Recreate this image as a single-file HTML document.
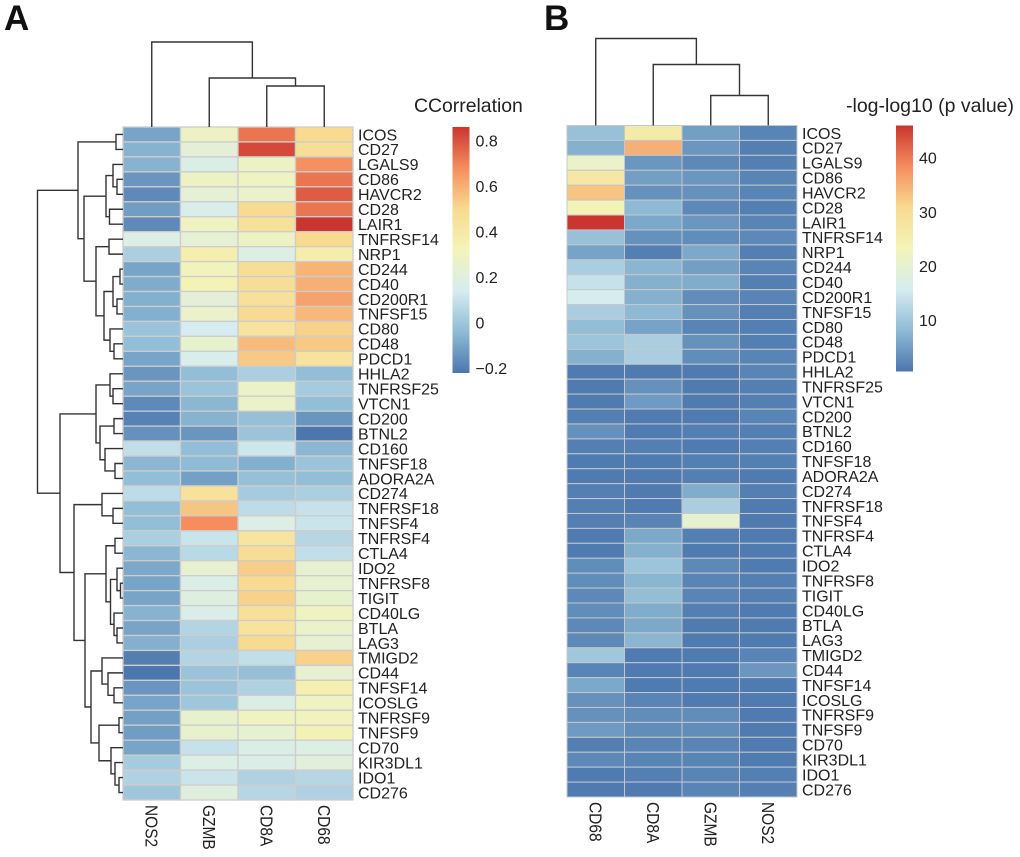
<!DOCTYPE html>
<html lang="en">
<head>
<meta charset="utf-8">
<title>Heatmaps of immune checkpoint gene correlation</title>
<style>
html,body{margin:0;padding:0;background:#fff;width:1020px;height:857px;overflow:hidden}
svg{display:block}
text{font-family:"Liberation Sans",Arial,sans-serif;fill:#222}
</style>
</head>
<body>
<svg id="figure" xmlns="http://www.w3.org/2000/svg" width="1020" height="857" viewBox="0 0 1020 857">
  <defs>
    <linearGradient id="rampGradient" x1="0" y1="1" x2="0" y2="0"></linearGradient>
  </defs>
  <rect x="0" y="0" width="1020" height="857" fill="#fff"/>
  <text x="4" y="30" font-size="35" font-weight="700" style="fill:#111">A</text>
  <text x="544" y="30" font-size="35" font-weight="700" style="fill:#111">B</text>
  <text x="414" y="112" font-size="19.4">CCorrelation</text>
  <text x="846" y="112" font-size="19.5">-log-log10 (p value)</text>
  <g id="panelA"></g>
  <g id="panelB"></g>
</svg>
<script>
var genes = ["ICOS","CD27","LGALS9","CD86","HAVCR2","CD28","LAIR1","TNFRSF14","NRP1","CD244","CD40","CD200R1","TNFSF15","CD80","CD48","PDCD1","HHLA2","TNFRSF25","VTCN1","CD200","BTNL2","CD160","TNFSF18","ADORA2A","CD274","TNFRSF18","TNFSF4","TNFRSF4","CTLA4","IDO2","TNFRSF8","TIGIT","CD40LG","BTLA","LAG3","TMIGD2","CD44","TNFSF14","ICOSLG","TNFRSF9","TNFSF9","CD70","KIR3DL1","IDO1","CD276"];

/* Panel A: correlation values per column */
var columnsA = ["NOS2","GZMB","CD8A","CD68"];
var corrNOS2 = [-0.10,-0.06,-0.06,-0.14,-0.17,-0.12,-0.17,0.18,0.03,-0.10,-0.08,-0.07,-0.07,-0.01,-0.03,-0.10,-0.14,-0.10,-0.17,-0.19,-0.15,0.09,-0.05,-0.03,0.08,-0.03,-0.03,0.03,-0.05,-0.09,-0.10,-0.10,-0.06,-0.10,-0.07,-0.20,-0.22,-0.14,-0.10,-0.11,-0.12,-0.10,0.02,0.04,0.00];
var corrGZMB = [0.28,0.22,0.17,0.28,0.23,0.16,0.29,0.23,0.36,0.30,0.33,0.22,0.26,0.14,0.25,0.16,-0.03,-0.01,-0.05,-0.06,-0.14,-0.03,-0.04,-0.11,0.45,0.55,0.68,0.11,0.07,0.24,0.17,0.19,0.17,0.05,0.03,0.05,-0.01,-0.01,0.00,0.25,0.25,0.10,0.18,0.11,0.20];
var corrCD8A = [0.73,0.82,0.28,0.29,0.26,0.50,0.46,0.28,0.18,0.47,0.47,0.46,0.50,0.44,0.57,0.54,0.03,0.27,0.27,-0.02,-0.01,0.12,-0.07,-0.02,0.02,0.08,0.18,0.43,0.47,0.53,0.50,0.52,0.46,0.44,0.50,0.09,-0.02,0.04,0.17,0.29,0.24,0.17,0.17,0.04,0.06];
var corrCD68 = [0.50,0.47,0.67,0.73,0.78,0.73,0.86,0.50,0.37,0.59,0.60,0.63,0.58,0.52,0.54,0.44,-0.03,0.02,-0.03,-0.14,-0.22,-0.05,-0.01,-0.03,0.03,0.10,0.11,0.06,0.09,0.24,0.24,0.25,0.29,0.26,0.24,0.52,0.24,0.35,0.29,0.30,0.34,0.18,0.21,0.06,0.04];
var legendTicksA = [0.8,0.6,0.4,0.2,0,-0.2];
var legendLabelsA = ["0.8","0.6","0.4","0.2","0","\u22120.2"];
var domainA = [-0.22,0.86];

/* Panel B: significance values per column */
var columnsB = ["CD68","CD8A","GZMB","NOS2"];
var sigCD68 = [9,7,21,27,33,23.5,46,9,5.5,11,14,16,11,8.5,9.5,7,1,1,1,1.5,3.5,1.5,1,1,1.5,1.5,1.5,1,1,3,3,2.5,3,2.5,2.5,10,2,6,3.5,3.5,4.5,1.5,2.5,1,1];
var sigCD8A = [26,35,4,5,3.5,8,6,3.5,1.5,7.5,7,7,8,5.5,11,11,1,3.5,4.5,1,1,1.5,1,1,1,1,2,6,7,9.5,7.5,8.5,6.5,6,7.5,1,1,1,2,3,3,2,2,1.5,1];
var sigGZMB = [5,4,2.5,4,3.5,2.5,4,3,6,5,6.5,3,3.5,2,3.5,3,1,1,1,1,1.5,1,1.5,1.5,6.5,11,20,1.5,1,2.5,2,2,1.5,1,1,1,1,1,1,3,3,2,2,2,2];
var sigNOS2 = [2,1.5,1.5,2,2,1.5,2,2.5,1.5,2,1.5,2,1.5,1.5,1.5,2,2,1.5,1.5,2,1.5,1.5,1.5,1,1.5,1,1,1,1,1,1.5,1.5,1,1,1,2,4,1,1,1,1,1,1,1.5,1.5];
var legendTicksB = [40,30,20,10];
var legendLabelsB = ["40","30","20","10"];
var domainB = [0.5,46];

/* Dendrograms: node = [merge height, left child, right child]; a number is a leaf index */
var rowTreeA = [8.55,
  [4.5,
    [0.7,0,1],
    [3.9,
      [1.7,[1.0,2,[0.6,3,4]],[1.35,5,6]],
      [2.7,
        [1.4,7,8],
        [1.9,
          [1.0,[0.3,9,10],[0.6,11,12]],
          [1.3,13,[0.9,14,15]]]]]],
  [6.3,
    [2.7,
      [1.3,16,[1.0,17,18]],
      [2.3,[0.9,19,20],[1.8,21,[0.8,22,23]]]],
    [4.9,
      [2.1,24,[1.0,25,26]],
      [3.8,
        [1.7,
          [0.8,27,28],
          [1.25,[0.6,29,[0.25,30,31]],[0.9,32,[0.6,33,34]]]],
        [3.2,
          [2.1,35,[1.5,36,[0.9,37,38]]],
          [2.4,[0.4,39,40],[1.2,41,[0.8,42,[0.4,43,44]]]]]]]]];
var colTreeA = [8.5,0,[4.9,1,[4.1,2,3]]];
var colTreeB = [8.7,0,[6.1,1,[3.0,2,3]]];

/* Shared colour ramp (low to high) */
var ramp = ["#4b76ae","#8fbbd5","#d6ecf0","#f4f4b8","#f8da90","#f58d5e","#cb352f"];

var NS = "http://www.w3.org/2000/svg";

function hexToRgb(h){
  return [parseInt(h.slice(1,3),16),parseInt(h.slice(3,5),16),parseInt(h.slice(5,7),16)];
}
function colorScale(domain){
  return function(v){
    var t = Math.max(0,Math.min(1,(v-domain[0])/(domain[1]-domain[0])))*(ramp.length-1);
    var i = Math.min(ramp.length-2,Math.floor(t));
    var f = t-i;
    var a = hexToRgb(ramp[i]);
    var b = hexToRgb(ramp[i+1]);
    return "rgb("+Math.round(a[0]+(b[0]-a[0])*f)+","+Math.round(a[1]+(b[1]-a[1])*f)+","+Math.round(a[2]+(b[2]-a[2])*f)+")";
  };
}
function el(tag,attrs,parent){
  var node = document.createElementNS(NS,tag);
  for(var k in attrs){ node.setAttribute(k,attrs[k]); }
  parent.appendChild(node);
  return node;
}

/* legend gradient */
var gradient = document.getElementById("rampGradient");
ramp.forEach(function(c,i){
  el("stop",{offset:(i/(ramp.length-1)),"stop-color":c},gradient);
});

function drawTreeLink(parent,x1,y1,x2,y2,x3,y3,x4,y4,name){
  var p = el("path",{d:"M"+x1+" "+y1+"L"+x2+" "+y2+"L"+x3+" "+y3+"L"+x4+" "+y4,fill:"none",stroke:"#333","stroke-width":1.4},parent);
  
  
}

function drawPanel(cfg){
  var g = document.getElementById(cfg.groupId);
  var colCount = cfg.columns.length;
  var cellW = cfg.width/colCount;
  var cellH = cfg.height/genes.length;
  var colX = function(i){ return cfg.left+i*cellW; };
  var rowY = function(i){ return cfg.top+i*cellH; };
  var color = colorScale(cfg.domain);

  /* heatmap cells */
  cfg.series.forEach(function(values,c){
    values.forEach(function(v,r){
      var cell = el("rect",{x:colX(c),y:rowY(r),width:cellW,height:cellH,fill:color(v),stroke:cfg.grid,"stroke-width":cfg.gridWidth},g);
      
      
    });
  });

  /* row labels */
  genes.forEach(function(name,r){
    var t = el("text",{x:cfg.left+cfg.width+cfg.rowLabelGap,y:rowY(r)+cellH/2+5.8,"font-size":16},g);
    t.textContent = name;
    
    
  });

  /* column labels */
  cfg.columns.forEach(function(name,c){
    var x = colX(c)+cellW/2-6.2;
    var y = cfg.top+cfg.height+5;
    var t = el("text",{x:0,y:0,"font-size":15.5,transform:"translate("+x+" "+y+") rotate(90) scale(1 1.15)"},g);
    t.textContent = name;
    
    
  });

  /* column dendrogram */
  var colCenter = function(i){ return colX(i)+cellW/2; };
  var colH = function(h){ return cfg.top-h*10; };
  (function walk(node){
    if(typeof node==="number"){ return {p:colCenter(node),y:cfg.top}; }
    var a = walk(node[1]);
    var b = walk(node[2]);
    var y = colH(node[0]);
    drawTreeLink(g,a.p,a.y,a.p,y,b.p,y,b.p,b.y,'column-dendrogram-link');
    return {p:(a.p+b.p)/2,y:y};
  })(cfg.colTree);

  /* row dendrogram */
  if(cfg.rowTree){
    var rowCenter = function(i){ return rowY(i)+cellH/2; };
    var rowH = function(h){ return cfg.left-h*10; };
    (function walk(node){
      if(typeof node==="number"){ return {p:rowCenter(node),x:cfg.left}; }
      var a = walk(node[1]);
      var b = walk(node[2]);
      var x = rowH(node[0]);
      drawTreeLink(g,a.x,a.p,x,a.p,x,b.p,b.x,b.p,'row-dendrogram-link');
      return {p:(a.p+b.p)/2,x:x};
    })(cfg.rowTree);
  }

  /* colour legend */
  var bar = el("rect",{x:cfg.legendX,y:cfg.legendTop,width:cfg.legendW,height:cfg.legendH,fill:"url(#rampGradient)"},g);
  
  
  var legendY = function(v){ return cfg.legendTop+cfg.legendH*(1-(v-cfg.domain[0])/(cfg.domain[1]-cfg.domain[0])); };
  cfg.legendTicks.forEach(function(v,i){
    var t = el("text",{x:cfg.legendLabelX,y:legendY(v)+5.8,"font-size":16},g);
    t.textContent = cfg.legendLabels[i];
    
    
  });
}

drawPanel({
  groupId:"panelA",left:123,top:127,width:230,height:673,
  columns:columnsA,series:[corrNOS2,corrGZMB,corrCD8A,corrCD68],
  domain:domainA,grid:"#cdcdcd",gridWidth:1.3,rowLabelGap:5,
  colTree:colTreeA,rowTree:rowTreeA,
  legendX:452.5,legendTop:127,legendW:17,legendH:246,legendLabelX:475.5,
  legendTicks:legendTicksA,legendLabels:legendLabelsA
});
drawPanel({
  groupId:"panelB",left:567,top:125.5,width:230,height:671.5,
  columns:columnsB,series:[sigCD68,sigCD8A,sigGZMB,sigNOS2],
  domain:domainB,grid:"#c4c8cc",gridWidth:1,rowLabelGap:5,
  colTree:colTreeB,rowTree:null,
  legendX:896,legendTop:125.5,legendW:17,legendH:246,legendLabelX:919,
  legendTicks:legendTicksB,legendLabels:legendLabelsB
});
</script>
</body>
</html>
